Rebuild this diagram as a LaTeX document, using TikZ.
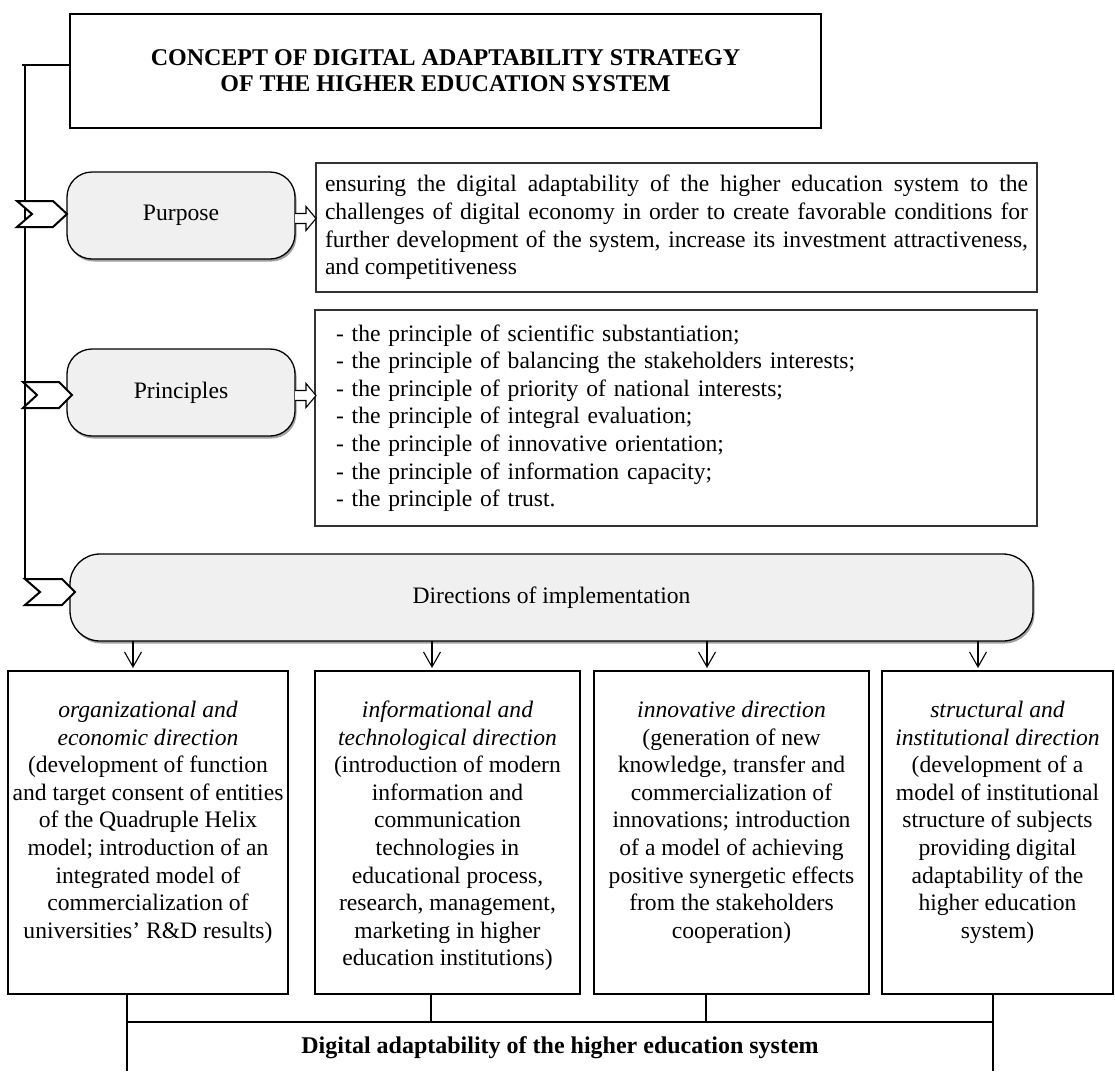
\documentclass[tikz,border=0pt]{standalone}
\usepackage{fontspec}
\setmainfont{Liberation Serif}
\usetikzlibrary{arrows.meta,shadows}
\definecolor{boxgray}{HTML}{F0F0F0}
\definecolor{shadowgray}{HTML}{A0A0A0}
\newcommand\dline[1]{\hbox to\hsize{\hss#1\hss}}
\newcommand\dfirst[1]{\hbox to\hsize{\hss\rule{0pt}{46.5pt}#1\hss}}
\newcommand\jline[1]{\hbox to 703pt{#1}}
\begin{document}
\begin{tikzpicture}[x=1pt,y=-1pt,
  every node/.style={font=\fontsize{23.6}{27.6}\selectfont, inner sep=0pt, outer sep=0pt},
  titlebox/.style={draw=black, line width=2.4pt, minimum width=751pt, minimum height=114pt, align=center,
     font=\fontsize{24}{26}\selectfont\bfseries},
  rbox/.style={draw=black, line width=1.3pt, fill=boxgray, rounded corners=25pt,
     drop shadow={shadow xshift=1.5pt, shadow yshift=-2.5pt, fill=shadowgray, opacity=1}},
  tbox/.style={draw=black!80, line width=1.1pt},
  dirbox/.style={draw=black, line width=1.1pt, anchor=north west},
  chev/.style={draw=black, line width=2pt, fill=white, line join=miter},
  conn/.style={draw=black, line width=1.1pt},
  harrow/.style={draw=black, line width=1.1pt, fill=white, line join=miter},
  darrow/.style={draw=black, line width=1.1pt, -{Straight Barb[length=15pt, width=17pt, line width=1.1pt]}, shorten >=3pt}
]
\useasboundingbox (0,0) rectangle (1115,1071);

% title
\node[titlebox] (title) at (445.5,71) {CONCEPT OF DIGITAL ADAPTABILITY STRATEGY\\OF THE HIGHER EDUCATION SYSTEM};

% left boxes
\node[rbox, minimum width=228pt, minimum height=87pt] (purpose) at (181,215.5) {Purpose};
\node[rbox, minimum width=228pt, minimum height=87pt] (principles) at (181,392.5) {Principles};
\node[rbox, rounded corners=30pt, minimum width=963pt, minimum height=87pt] (directions) at (551.5,597.5) {Directions of implementation};

% text boxes
\node[tbox, inner xsep=9pt, minimum width=721pt, minimum height=129pt] (purposetext) at (676.5,227.5)
 {\vbox{\jline{ensuring the digital adaptability of the higher education system to the}
  \jline{challenges of digital economy in order to create favorable conditions for}
  \jline{further development of the system, increase its investment attractiveness,}
  \hbox to 703pt{and competitiveness\hfil}}};
\node[tbox, text width=680pt, inner xsep=21pt, minimum height=216pt, align=left] (principlestext) at (676,418)
 {- the principle of scientific substantiation;\\
  - the principle of balancing the stakeholders interests;\\
  - the principle of priority of national interests;\\
  - the principle of integral evaluation;\\
  - the principle of innovative orientation;\\
  - the principle of information capacity;\\
  - the principle of trust.};

% block arrows
\draw[harrow] (purpose.east) ++(0,-2) -- ++(11,0) -- ++(0,-7) -- ++(10,12) -- ++(-10,12) -- ++(0,-7) -- ++(-11,0);
\draw[harrow] (principles.east) ++(0,-2) -- ++(11,0) -- ++(0,-7) -- ++(10,12) -- ++(-10,12) -- ++(0,-7) -- ++(-11,0);

% direction boxes
\node[dirbox] (d1) at (8,671) {\parbox[t][323pt][t]{280pt}{%
  \dfirst{\itshape organizational and}
  \dline{\itshape economic direction}
  \dline{(development of function}
  \dline{and target consent of entities}
  \dline{of the Quadruple Helix}
  \dline{model; introduction of an}
  \dline{integrated model of}
  \dline{commercialization of}
  \dline{universities’ R\&D results)}}};
\node[dirbox] (d2) at (315,671) {\parbox[t][323pt][t]{265pt}{%
  \dfirst{\itshape informational and}
  \dline{\itshape technological direction}
  \dline{(introduction of modern}
  \dline{information and}
  \dline{communication}
  \dline{technologies in}
  \dline{educational process,}
  \dline{research, management,}
  \dline{marketing in higher}
  \dline{education institutions)}}};
\node[dirbox] (d3) at (594,671) {\parbox[t][323pt][t]{275pt}{%
  \dfirst{\itshape innovative direction}
  \dline{(generation of new}
  \dline{knowledge, transfer and}
  \dline{commercialization of}
  \dline{innovations; introduction}
  \dline{of a model of achieving}
  \dline{positive synergetic effects}
  \dline{from the stakeholders}
  \dline{cooperation)}}};
\node[dirbox] (d4) at (882,671) {\parbox[t][323pt][t]{231pt}{%
  \dfirst{\itshape structural and}
  \dline{\itshape institutional direction}
  \dline{(development of a}
  \dline{model of institutional}
  \dline{structure of subjects}
  \dline{providing digital}
  \dline{adaptability of the}
  \dline{higher education}
  \dline{system)}}};

% bottom result
\node[font=\fontsize{24}{27.6}\selectfont\bfseries] (result) at (560,1048) {Digital adaptability of the higher education system};

% coordinates
\coordinate (tk) at (25,65);
\coordinate (tb) at (25,579);
\coordinate (a1) at (133,0);
\coordinate (a2) at (432,0);
\coordinate (a3) at (707,0);
\coordinate (a4) at (978,0);
\coordinate (bl) at (127,1022);
\coordinate (br) at (993,1022);
\coordinate (b2) at (431,1022);
\coordinate (b3) at (706,1022);
\coordinate (bot) at (0,1071);

% trunk
\draw[conn] (title.west |- tk) -- ++(-48,0);
\draw[conn] (tk) -- (tb);

% chevrons
\draw[chev] (17,201) -- (53,201) -- (67,214) -- (53,227) -- (17,227) -- (32,214) -- cycle;
\draw[chev] (23,382) -- (59,382) -- (72,395) -- (59,408) -- (23,408) -- (37,395) -- cycle;
\draw[chev] (25,579) -- (62,579) -- (75,592) -- (62,605) -- (25,605) -- (40,592) -- cycle;

% down arrows
\draw[darrow] (directions.south -| a1) -- (d1.north -| a1);
\draw[darrow] (directions.south -| a2) -- (d2.north -| a2);
\draw[darrow] (directions.south -| a3) -- (d3.north -| a3);
\draw[darrow] (directions.south -| a4) -- (d4.north -| a4);

% bottom connectors
\draw[conn] (d1.south -| bl) -- (bl |- bot);
\draw[conn] (d4.south -| br) -- (br |- bot);
\draw[conn] (bl) -- (br);
\draw[conn] (d2.south -| b2) -- (b2);
\draw[conn] (d3.south -| b3) -- (b3);
\end{tikzpicture}
\end{document}
